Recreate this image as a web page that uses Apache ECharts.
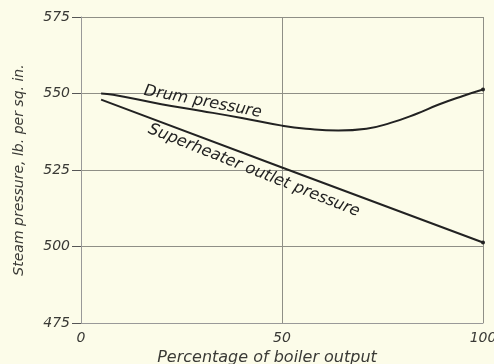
<!DOCTYPE html>
<html><head><meta charset="utf-8">
<script src="https://cdn.jsdelivr.net/npm/echarts@6/dist/echarts.min.js"></script>
<style>html,body{margin:0;padding:0;background:#fcfce9}#c{width:494px;height:364px}</style>
</head><body><div id="c"></div>
<script>
var xTicks = [0, 50, 100];
var yTicks = [475, 500, 525, 550, 575];
var drumX = [5, 8, 20, 30, 40, 50, 56, 64, 71, 77, 83.5, 89, 95, 100];
var drumY = [550, 549.6, 546.5, 544.3, 542, 539.5, 538.5, 537.9, 538.5, 540.4, 543.4, 546.4, 549.2, 551.3];
var superX = [5, 50, 100];
var superY = [548, 525.8, 501.3];
var drumLabel = 'Drum pressure';
var superLabel = 'Superheater outlet pressure';
var xName = 'Percentage of boiler output';
var yName = 'Steam pressure, lb. per sq. in.';

var FONT = 'DejaVu Sans';
function pts(xs, ys){
  return xs.map(function(x,i){
    var item = {value:[x, ys[i]]};
    if (i === xs.length-1) { item.symbol = 'circle'; item.symbolSize = 4; }
    return item;
  });
}
var chart = echarts.init(document.getElementById('c'), null, {renderer:'canvas'});
var txt = {fontFamily: FONT, fontStyle:'italic', color:'#3a3a36'};
chart.setOption({
  backgroundColor:'#fcfce9',
  animation:false,
  grid:{left:81, right:11, top:17, bottom:41, containLabel:false, outerBoundsMode:'none'},
  xAxis:{type:'value', min:xTicks[0], max:xTicks[xTicks.length-1], interval:50,
    name:xName, nameLocation:'middle', nameGap:25,
    nameTextStyle:Object.assign({}, txt, {fontSize:16, padding:[0,30,0,0]}),
    axisLine:{show:true, lineStyle:{color:'#999', width:1}},
    axisTick:{show:false},
    axisLabel:Object.assign({}, txt, {margin:8, fontSize:14}),
    splitLine:{show:true, lineStyle:{color:'#8f8f86', width:1}}},
  yAxis:{type:'value', min:yTicks[0], max:yTicks[yTicks.length-1], interval:25,
    name:yName, nameLocation:'middle', nameGap:55, nameRotate:90,
    nameTextStyle:Object.assign({}, txt, {fontSize:14}),
    axisLine:{show:true, onZero:false, lineStyle:{color:'#999', width:1}},
    axisTick:{show:true, inside:false, length:9, lineStyle:{color:'#555', width:1}},
    axisLabel:Object.assign({}, txt, {margin:11, fontSize:14}),
    splitLine:{show:true, lineStyle:{color:'#8f8f86', width:1}}},
  series:[
    {type:'line', data:pts(drumX, drumY), smooth:0.5, symbol:'none', showSymbol:true,
      lineStyle:{color:'#222', width:2}, itemStyle:{color:'#222'}},
    {type:'line', data:pts(superX, superY), symbol:'none', showSymbol:true,
      lineStyle:{color:'#222', width:2}, itemStyle:{color:'#222'}}
  ]
});
var p1 = chart.convertToPixel({gridIndex:0}, [30.3, 547.3]);
var p2 = chart.convertToPixel({gridIndex:0}, [43, 524.8]);
chart.setOption({graphic:[
  {type:'text', x:p1[0], y:p1[1], rotation:-10.8*Math.PI/180,
    style:{text:drumLabel, fill:'#222', font:'italic 16px "DejaVu Sans"', align:'center', verticalAlign:'middle'}},
  {type:'text', x:p2[0], y:p2[1], rotation:-21.8*Math.PI/180,
    style:{text:superLabel, fill:'#222', font:'italic 16px "DejaVu Sans"', align:'center', verticalAlign:'middle'}}
]});
</script></body></html>
